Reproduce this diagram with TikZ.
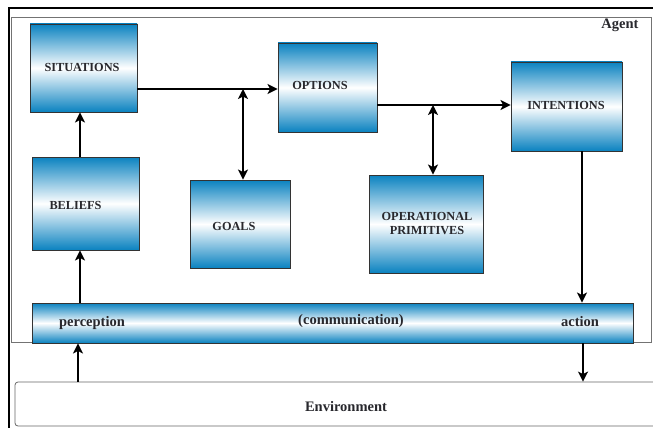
\documentclass[tikz,border=0pt]{standalone}
\usepackage{fontspec}
\setmainfont{Liberation Serif}
\usetikzlibrary{arrows.meta}
\definecolor{cblue}{RGB}{10,130,192}
\definecolor{txt}{RGB}{40,40,45}
\begin{document}
\begin{tikzpicture}[x=1pt,y=-1pt,
  box/.style={draw=black!80,line width=0.9pt,rectangle,inner sep=0pt,
    top color=cblue,bottom color=cblue,middle color=white},
  blbl/.style={font=\fontsize{12.3}{13.5}\selectfont\bfseries,text=txt,inner sep=0pt,align=center},
  tlbl/.style={font=\fontsize{14.5}{16}\selectfont\bfseries,text=txt,inner sep=0pt},
  tip/.tip={Stealth[length=10pt,width=10pt,inset=2.5pt]},
  arr/.style={line width=2.8pt,-tip},
  dbl/.style={line width=2.8pt,tip-tip}]
\useasboundingbox (0,0) rectangle (653,428);
\fill[white] (0,0) rectangle (653,428);
% outer frame
\draw[line width=1.3pt,black] (9,428) -- (9,8) -- (653,8);
% agent frame
\draw[line width=0.8pt,black!55] (11,17) rectangle (651,342);
\node[tlbl] (agent) at (620,25) {Agent};
% environment
\node[draw=black!60,line width=0.8pt,rounded corners=3pt,minimum width=645pt,minimum height=44pt,inner sep=0pt] (env) at (337.5,404) {};
\node[tlbl] (envl) at (346,407) {Environment};
% boxes
\node[box,minimum width=107pt,minimum height=88pt] (sit) at (83.5,68) {};
\node[box,minimum width=107pt,minimum height=93pt] (bel) at (85.5,203.5) {};
\node[box,minimum width=99pt,minimum height=89pt] (opt) at (327.5,87.5) {};
\node[box,minimum width=111pt,minimum height=89pt] (int) at (566.5,106.5) {};
\node[box,minimum width=100pt,minimum height=88pt] (goa) at (240,224) {};
\node[box,minimum width=114pt,minimum height=98pt] (ops) at (426,224) {};
\node[box,minimum width=601pt,minimum height=40pt] (band) at (332.5,323) {};
% labels
\node[blbl] (sitl) at (82,67) {SITUATIONS};
\node[blbl] (bell) at (75.5,205) {BELIEFS};
\node[blbl] (optl) at (320,85) {OPTIONS};
\node[blbl] (intl) at (566,105) {INTENTIONS};
\node[blbl] (goal) at (234,226) {GOALS};
\node[blbl] (opsl) at (427,223.5) {OPERATIONAL\\PRIMITIVES};
\node[tlbl] (perc) at (92,323) {perception};
\node[tlbl] (comm) at (351,321) {(communication)};
\node[tlbl] (act) at (580,322) {action};
% connectors
\coordinate (j1) at (243,89);
\coordinate (j2) at (433,105);
\draw[arr] (sit.east |- j1) -- (opt.west |- j1);
\draw[dbl] (j1) -- (goa.north -| j1);
\draw[arr] (opt.east |- j2) -- (int.west |- j2);
\draw[dbl] (j2) -- (ops.north -| j2);
\draw[arr] (bel.north -| 80,0) -- (sit.south -| 80,0);
\draw[arr] (band.north -| 80,0) -- (bel.south -| 80,0);
\draw[arr] (env.north -| 78,0) -- (band.south -| 78,0);
\draw[arr] (int.south -| 582,0) -- (band.north -| 582,0);
\draw[arr] (band.south -| 583,0) -- (env.north -| 583,0);
\end{tikzpicture}
\end{document}
